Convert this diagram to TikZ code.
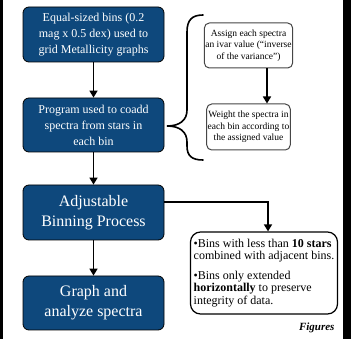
\documentclass[tikz,border=0pt]{standalone}
\usepackage{fontspec}
\setmainfont{Liberation Serif}
\usetikzlibrary{arrows.meta,calc}
\definecolor{navy}{RGB}{14,72,124}
\definecolor{edgegrey}{RGB}{70,70,70}
\tikzset{
  bluebox/.style={draw=black, line width=0.8pt, fill=navy, rounded corners=6pt, text=white,
    minimum width=141pt, align=center, inner sep=2pt},
  whitebox/.style={draw=edgegrey, line width=1pt, fill=white, rounded corners=5pt, text=black,
    minimum width=75pt, minimum height=45pt, align=center, inner sep=1pt,
    font=\fontsize{9.5}{11.5}\selectfont},
  flow/.style={line width=1.6pt, -{Triangle[width=8pt,length=7pt]}},
  bracepath/.style={line width=1.6pt, line cap=round}
}
\begin{document}
\begin{tikzpicture}[x=1pt,y=-1pt]
\useasboundingbox (0,0) rectangle (351,339);
\fill[black] (0,0) rectangle (3,339);
\fill[black] (343,0) rectangle (351,339);

\node[bluebox, minimum height=55pt, font=\fontsize{12}{16}\selectfont] (b1) at (93.5,34.5)
  {Equal-sized bins (0.2\\ mag x 0.5 dex) used to\\ grid Metallicity graphs};
\node[bluebox, minimum height=54pt, font=\fontsize{12}{16}\selectfont] (b2) at (93.5,125)
  {Program used to coadd\\ spectra from stars in\\ each bin};
\node[bluebox, minimum height=55pt, font=\fontsize{16}{20}\selectfont] (b3) at (93.5,212.5)
  {Adjustable\\ Binning Process};
\node[bluebox, minimum height=54pt, font=\fontsize{16}{20}\selectfont] (b4) at (93.5,303)
  {Graph and\\ analyze spectra};

\node[whitebox] (wa) at (248.5,45.5)
  {Assign each spectra\\ an ivar value (“inverse\\ of the variance”)};
\node[whitebox, minimum height=46pt] (wb) at (248.5,127)
  {Weight the spectra in\\ each bin according to\\ the assigned value};

\node[draw=black, line width=1.2pt, fill=white, rounded corners=10pt, minimum width=147pt,
  minimum height=82pt, align=left, inner xsep=2pt,
  font=\fontsize{12}{12.5}\selectfont] (bin) at (264,273)
  {•Bins with less than \textbf{10 stars}\\ combined with adjacent bins.\\[7pt]
   •Bins only extended\\ \textbf{horizontally} to preserve\\ integrity of data.};

\node[anchor=east, font=\fontsize{11}{13}\selectfont\bfseries\itshape] (fig) at (338,328) {Figures};

\draw[flow] (b1) -- (b2);
\draw[flow] (b2) -- (b3);
\draw[flow] (b3) -- (b4);
\draw[flow] ($(wa.south)+(18.5,0)$) -- ($(wb.north)+(18.5,0)$);
\draw[flow] ($(b3.east)+(0,-10.5)$) -| ($(bin.north)+(4,0)$);

\coordinate (brtop) at (203,15);
\coordinate (brtip) at (167,126);
\coordinate (brbot) at (203,160);
\draw[bracepath] (brtop) .. controls (192,15) and (187,20) .. (187,32)
  -- (187,110) .. controls (187,120) and (180,126) .. (brtip)
  .. controls (180,126) and (187,132) .. (187,142)
  -- (187,146) .. controls (187,156) and (192,160) .. (brbot);
\end{tikzpicture}
\end{document}
